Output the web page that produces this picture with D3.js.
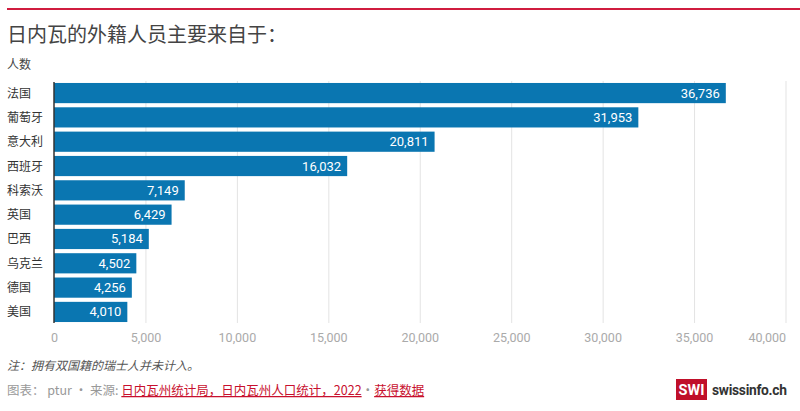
<!DOCTYPE html>
<html><head><meta charset="utf-8">
<script src="https://cdn.jsdelivr.net/npm/d3@7"></script>
<style>
body{margin:0;background:#fff;font-family:"Noto Sans CJK SC","Noto Sans",sans-serif;}
</style></head>
<body>
<svg id="c" width="800" height="411"></svg>
<script>
const categories = ["法国","葡萄牙","意大利","西班牙","科索沃","英国","巴西","乌克兰","德国","美国"];
const values = [36736,31953,20811,16032,7149,6429,5184,4502,4256,4010];
const xTicks = [0,5000,10000,15000,20000,25000,30000,35000,40000];

const svg = d3.select("#c");
const font = '"Noto Sans CJK SC","Noto Sans",sans-serif';
const numFont = 'Roboto,"Liberation Sans",sans-serif';

svg.append("rect").attr("x",7).attr("y",8).attr("width",793).attr("height",2).attr("fill","#d01c3f");

svg.append("text").attr("x",7).attr("y",42).text("日内瓦的外籍人员主要来自于：")
  .attr("font-family",font).attr("font-size",20).attr("fill","#444");
svg.append("text").attr("x",7).attr("y",69).text("人数")
  .attr("font-family",font).attr("font-size",12).attr("fill","#444");

const x = d3.scaleLinear().domain([0,40000]).range([54,785.5]);
const y = d3.scaleBand().domain(categories).range([82,323]).paddingInner(0.17).paddingOuter(0.04);

// grid
const ax = svg.append("g").attr("transform","translate(0,323)")
  .call(d3.axisBottom(x).tickValues(xTicks).tickSize(-242).tickFormat(d3.format(",")).tickPadding(10));
ax.select(".domain").remove();
ax.selectAll(".tick line").attr("stroke","#e3e3e3");
ax.selectAll(".tick text").attr("font-family",numFont).attr("font-size",12.5).attr("fill","#aaa");
ax.selectAll(".tick").filter(d=>d===0).select("line").remove();
ax.selectAll(".tick").filter(d=>d===40000).select("text").attr("text-anchor","end");

svg.selectAll("rect.bar").data(values).join("rect").attr("class","bar")
  .attr("x",x(0)).attr("y",(d,i)=>y(categories[i])).attr("height",y.bandwidth())
  .attr("width",d=>x(d)-x(0)).attr("fill","#0a76b1");

svg.selectAll("text.val").data(values).join("text").attr("class","val")
  .attr("x",d=>x(d)-6).attr("y",(d,i)=>y(categories[i])+y.bandwidth()/2+4.5)
  .attr("text-anchor","end").attr("font-family",numFont).attr("font-size",13).attr("fill","#fff")
  .text(d=>d3.format(",")(d));

svg.selectAll("text.cat").data(categories).join("text").attr("class","cat")
  .attr("x",7).attr("y",d=>y(d)+y.bandwidth()/2+4.5)
  .attr("font-family",font).attr("font-size",12).attr("fill","#333").text(d=>d);

svg.append("line").attr("x1",54).attr("x2",54).attr("y1",82).attr("y2",323)
  .attr("stroke","#333").attr("stroke-width",1.5);

svg.append("text").attr("x",7).attr("y",370).attr("font-family",font).attr("font-size",12)
  .attr("font-style","italic").attr("fill","#555").text("注：拥有双国籍的瑞士人并未计入。");

const f = svg.append("text").attr("x",7).attr("y",395).attr("font-family",font).attr("font-size",12.5).attr("fill","#999");
f.append("tspan").text("图表： ptur • 来源: ");
f.append("tspan").attr("fill","#c8102e").attr("text-decoration","underline").text("日内瓦州统计局，日内瓦州人口统计，2022");
f.append("tspan").text("•");
f.append("tspan").attr("fill","#c8102e").attr("text-decoration","underline").text("获得数据");

svg.append("rect").attr("x",676).attr("y",379).attr("width",31).attr("height",21).attr("fill","#c0102a");
svg.append("text").attr("x",691.5).attr("y",395).attr("text-anchor","middle").attr("font-family","Roboto,sans-serif")
  .attr("font-weight","bold").attr("font-size",14.5).attr("fill","#fff").text("SWI");
svg.append("text").attr("x",712).attr("y",395).attr("font-family","Roboto,sans-serif")
  .attr("font-weight","bold").attr("font-size",13.8).attr("fill","#333").attr("textLength",75).text("swissinfo.ch");
</script>
</body></html>
